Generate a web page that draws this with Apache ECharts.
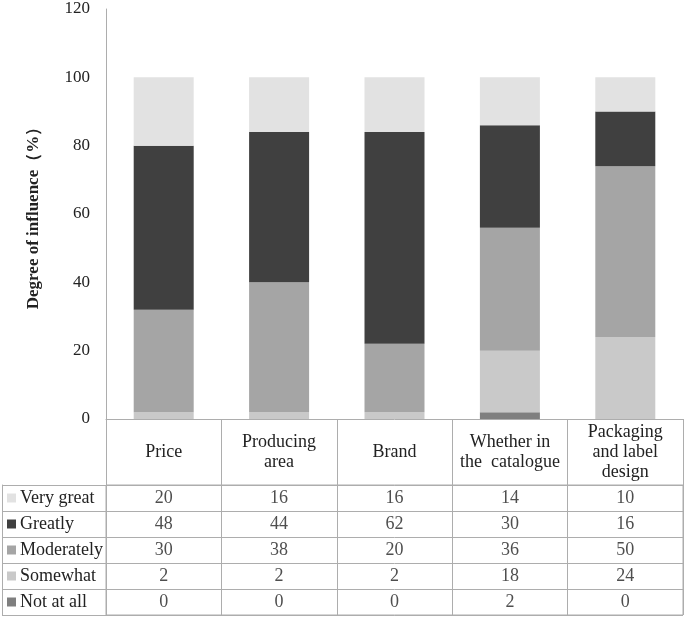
<!DOCTYPE html>
<html><head><meta charset="utf-8">
<script src="https://cdn.jsdelivr.net/npm/echarts@6/dist/echarts.min.js"></script>
<style>html,body{margin:0;padding:0;background:#fff}#c{width:685px;height:618px}</style>
</head><body><div id="c"></div>
<script>
const categories = ['Price', 'Producing\narea', 'Brand', 'Whether in\nthe  catalogue', 'Packaging\nand label\ndesign'];
const seriesNames = ['Very great', 'Greatly', 'Moderately', 'Somewhat', 'Not at all'];
const veryGreat = [20, 16, 16, 14, 10];
const greatly = [48, 44, 62, 30, 16];
const moderately = [30, 38, 20, 36, 50];
const somewhat = [2, 2, 2, 18, 24];
const notAtAll = [0, 0, 0, 2, 0];
const yTicks = [0, 20, 40, 60, 80, 100, 120];
const colors = {'Very great':'#e2e2e2','Greatly':'#404040','Moderately':'#a5a5a5','Somewhat':'#c9c9c9','Not at all':'#7f7f7f'};
const valuesByName = {'Very great':veryGreat,'Greatly':greatly,'Moderately':moderately,'Somewhat':somewhat,'Not at all':notAtAll};

const font = 'Liberation Serif';
const lineC = '#adadad';
const stackOrder = ['Not at all','Somewhat','Moderately','Greatly','Very great'];

const rich = {};
seriesNames.forEach((n,i)=>{ rich['s'+i] = {width:9,height:9,backgroundColor:colors[n]}; });
rich.t = {fontFamily:font,fontSize:18,color:'#222',padding:[0,0,0,4]};

const barSeries = stackOrder.map(n=>({
  name:n, type:'bar', stack:'all', xAxisIndex:0, yAxisIndex:0,
  barWidth:60, itemStyle:{color:colors[n]}, data:valuesByName[n]
}));
const cellData = [];
seriesNames.forEach((n,r)=>valuesByName[n].forEach((v,c)=>cellData.push([c,r,v])));

const chart = echarts.init(document.getElementById('c'));
chart.setOption({
  animation:false,
  grid:[
    {left:106,right:2,top:9,bottom:199},
    {left:106,right:2,top:485,bottom:3,show:true,borderColor:lineC,borderWidth:1}
  ],
  xAxis:[
    {type:'category',gridIndex:0,data:categories,
     axisLine:{lineStyle:{color:lineC}},
     axisTick:{show:true,length:66,lineStyle:{color:lineC}},
     axisLabel:{interval:0,fontFamily:font,fontSize:18,color:'#222',lineHeight:20,margin:33,verticalAlign:'middle'}},
    {type:'category',gridIndex:1,data:categories,
     axisLine:{show:false},axisTick:{show:false},axisLabel:{show:false},
     splitLine:{show:true,lineStyle:{color:lineC}}}
  ],
  yAxis:[
    {type:'value',gridIndex:0,min:0,max:120,interval:20,
     name:'Degree of influence（%）',nameLocation:'middle',nameGap:64,nameRotate:90,
     nameTextStyle:{fontFamily:font,fontSize:17,fontWeight:'bold',color:'#222'},
     axisLine:{show:true,lineStyle:{color:lineC}},axisTick:{show:false},splitLine:{show:false},
     axisLabel:{fontFamily:font,fontSize:17,color:'#222',margin:16,
       formatter:v=>yTicks.includes(v)?String(v):''}},
    {type:'category',gridIndex:1,data:seriesNames,inverse:true,
     axisLine:{show:true,lineStyle:{color:lineC}},
     axisTick:{show:true,length:104,lineStyle:{color:lineC}},
     splitLine:{show:true,lineStyle:{color:lineC}},
     axisLabel:{align:'left',margin:99,
       formatter:(v,i)=>'{s'+i+'|}{t|'+v+'}',rich:rich}},
    {type:'category',gridIndex:1,data:seriesNames,inverse:true,offset:104,position:'left',
     axisLine:{show:true,lineStyle:{color:lineC}},axisTick:{show:false},axisLabel:{show:false}}
  ],
  series:[...barSeries,
    {type:'scatter',xAxisIndex:1,yAxisIndex:1,symbolSize:1,itemStyle:{color:'rgba(0,0,0,0)'},
     data:cellData,
     label:{show:true,position:'inside',formatter:p=>String(p.value[2]),fontFamily:font,fontSize:18,color:'#222'}}
  ]
});
</script></body></html>
